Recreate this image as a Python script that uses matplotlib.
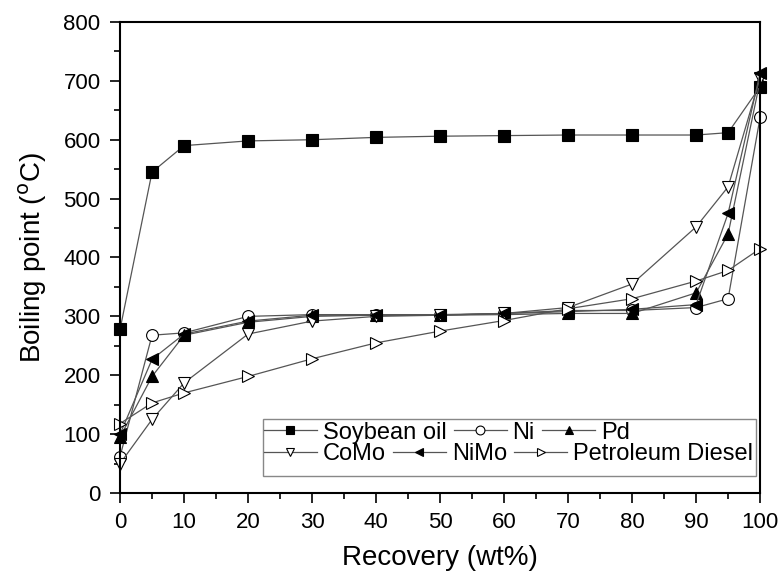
import matplotlib.pyplot as plt
from matplotlib.ticker import MultipleLocator
from matplotlib.patches import Rectangle
from matplotlib.legend import Legend
import numpy as np

plt.rcParams['font.family'] = ['Liberation Sans', 'DejaVu Sans']

recovery = [0, 5, 10, 20, 30, 40, 50, 60, 70, 80, 90, 95, 100]
soybean = [278, 545, 590, 598, 600, 604, 606, 607, 608, 608, 608, 612, 690]
ni = [62, 268, 272, 300, 303, 303, 303, 305, 310, 310, 315, 330, 638]
pd = [95, 198, 268, 290, 300, 302, 302, 303, 305, 305, 340, 440, 700]
como = [50, 125, 187, 270, 292, 300, 302, 305, 315, 355, 452, 520, 705]
nimo = [100, 227, 270, 292, 302, 302, 302, 305, 308, 312, 320, 475, 713]
diesel = [118, 153, 170, 198, 228, 255, 275, 293, 313, 330, 360, 378, 415]

series = [
    ('Soybean oil', soybean, 's', 'black'),
    ('Ni', ni, 'o', 'white'),
    ('Pd', pd, '^', 'black'),
    ('CoMo', como, 'v', 'white'),
    ('NiMo', nimo, '<', 'black'),
    ('Petroleum Diesel', diesel, '>', 'white'),
]

fig = plt.figure(figsize=(7.82, 5.78), dpi=100)
ax = fig.add_axes([0.1535, 0.147, 0.8185, 0.815])

lines = []
for name, vals, mk, fc in series:
    l, = ax.plot(recovery, vals, marker=mk, color='#555555', lw=0.9, ms=8.5,
                 mfc=fc, mec='black', mew=0.8, label=name, clip_on=False)
    lines.append(l)

ax.set_xlim(0, 100)
ax.set_ylim(0, 800)
ax.xaxis.set_major_locator(MultipleLocator(10))
ax.xaxis.set_minor_locator(MultipleLocator(5))
ax.yaxis.set_major_locator(MultipleLocator(100))
ax.yaxis.set_minor_locator(MultipleLocator(50))
ax.tick_params(which='both', direction='out', labelsize=16, width=1.2, pad=7)
ax.tick_params(which='major', length=7)
ax.tick_params(which='minor', length=4.5)
for s in ax.spines.values():
    s.set_linewidth(1.5)

ax.set_xlabel('Recovery (wt%)', fontsize=20, labelpad=8)
ax.set_ylabel(r'Boiling point ($^{\rm o}$C)', fontsize=20, labelpad=10)

# legend: two free-flowing rows inside one frame
frame = Rectangle((0.2234, 0.036), 0.7706, 0.121, transform=ax.transAxes,
                  fill=True, facecolor='white', edgecolor='#888888', lw=1.0, zorder=4)
ax.add_patch(frame)
rows = [([0, 1, 2], 0.128), ([3, 4, 5], 0.083)]
for idx, yy in rows:
    leg = Legend(ax, [lines[i] for i in idx], [series[i][0] for i in idx],
                 ncol=3, loc='center left', bbox_to_anchor=(0.2245, yy),
                 bbox_transform=ax.transAxes,
                 fontsize=17, frameon=False, handlelength=2.25,
                 handletextpad=0.25, columnspacing=0.3, borderpad=0,
                 borderaxespad=0, markerscale=0.75)
    leg.set_zorder(5)
    ax.add_artist(leg)

fig.savefig('out.png', dpi=100)
